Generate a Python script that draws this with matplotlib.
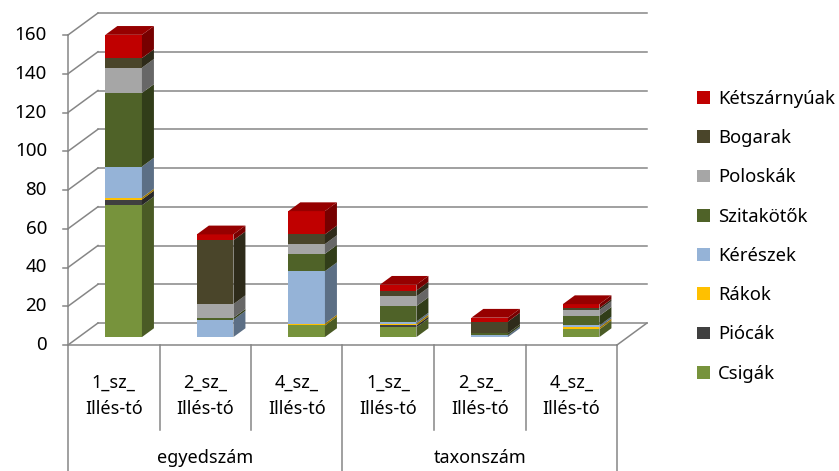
import matplotlib
matplotlib.use("Agg")
import matplotlib.pyplot as plt
from matplotlib.patches import Polygon, Patch
import numpy as np

plt.rcParams['font.family'] = ['Noto Sans', 'DejaVu Sans']

# data
sites = ["1_sz_\nIllés-tó", "2_sz_\nIllés-tó", "4_sz_\nIllés-tó"] * 2
groups = ["egyedszám", "taxonszám"]
taxa = ["Csigák", "Piócák", "Rákok", "Kérészek", "Szitakötők", "Poloskák", "Bogarak", "Kétszárnyúak"]
colors = ["#77933C", "#404040", "#FFC000", "#95B3D7", "#4F6228", "#A6A6A6", "#4A452A", "#C00000"]
values = {
    "Csigák":       [68, 0, 6, 5, 0, 4],
    "Piócák":       [3, 0, 0, 1, 0, 0],
    "Rákok":        [1, 0, 1, 1, 0, 1],
    "Kérészek":     [16, 9, 27, 1, 1, 1],
    "Szitakötők":   [38, 1, 9, 8, 1, 5],
    "Poloskák":     [13, 7, 5, 5, 0, 3],
    "Bogarak":      [5, 33, 5, 3, 6, 1],
    "Kétszárnyúak": [12, 3, 12, 3, 2, 2],
}
yticks = [0, 20, 40, 60, 80, 100, 120, 140, 160]

# geometry (oblique 3d like Excel)
W, H = 839, 471
x0px, x6px, y0px = 68, 617, 345
pxu = (x6px - x0px) / 6.0
pyu = 310 / 160.0
DX = 30 / pxu
DY = 22 / pyu
grid_c = "#868686"

fig = plt.figure(figsize=(W / 100, H / 100), dpi=100)
ax = fig.add_axes([0, 0, 1, 1])
ax.set_xlim(-x0px / pxu, (W - x0px) / pxu)
ax.set_ylim(-(H - y0px) / pyu, y0px / pyu)
ax.axis("off")

def shade(c, f):
    r, g, b = matplotlib.colors.to_rgb(c)
    return (r * f, g * f, b * f)

# back wall and side wall gridlines
for v in yticks:
    ax.plot([DX, 6 + DX], [v + DY, v + DY], color=grid_c, lw=1.1)
    ax.plot([0, DX], [v, v + DY], color=grid_c, lw=1.1)
    ax.plot([-5 / pxu, 0], [v, v], color=grid_c, lw=1.1)
    ax.text(-21 / pxu, v, str(v), ha="right", va="center", fontsize=13.5, color="#000000")
ax.plot([0, 0], [0, 160], color=grid_c, lw=1.1)
# floor
ax.plot([0, 6], [0, 0], color=grid_c, lw=1.1)
ax.plot([6, 6 + DX], [0, DY], color=grid_c, lw=1.1)

# bars
d1, d2 = 0.36, 0.76
for i in range(6):
    xl, xr = i + 0.29, i + 0.69
    base = 0
    segs = [(t, c, values[t][i]) for t, c in zip(taxa, colors) if values[t][i] > 0]
    for k, (t, c, v) in enumerate(segs):
        b, top = base, base + v
        front = [(xl + d1 * DX, b + d1 * DY), (xr + d1 * DX, b + d1 * DY),
                 (xr + d1 * DX, top + d1 * DY), (xl + d1 * DX, top + d1 * DY)]
        side = [(xr + d1 * DX, b + d1 * DY), (xr + d2 * DX, b + d2 * DY),
                (xr + d2 * DX, top + d2 * DY), (xr + d1 * DX, top + d1 * DY)]
        ax.add_patch(Polygon(front, closed=True, fc=c, ec="none", zorder=3))
        ax.add_patch(Polygon(side, closed=True, fc=shade(c, 0.62), ec="none", zorder=3))
        if k == len(segs) - 1:
            lid = [(xl + d1 * DX, top + d1 * DY), (xr + d1 * DX, top + d1 * DY),
                   (xr + d2 * DX, top + d2 * DY), (xl + d2 * DX, top + d2 * DY)]
            ax.add_patch(Polygon(lid, closed=True, fc=shade(c, 0.78), ec="none", zorder=3))
        base = top

# category table
ybot = -(H - y0px) / pyu
yshort = -(430 - y0px) / pyu
for i in range(7):
    ax.plot([i, i], [0, ybot if i % 3 == 0 else yshort], color=grid_c, lw=1.1)
for i, s in enumerate(sites):
    ax.text(i + 0.5, -(396 - y0px) / pyu, s, ha="center", va="center",
            fontsize=13, linespacing=1.55, color="#000000")
for j, g in enumerate(groups):
    ax.text(3 * j + 1.5, -(458 - y0px) / pyu, g, ha="center", va="center",
            fontsize=13, color="#000000")

# legend
handles = [Patch(facecolor=c, edgecolor="none") for c in colors][::-1]
fig.legend(handles, taxa[::-1], loc="upper left", bbox_to_anchor=(697 / W, 1 - 90 / H),
           frameon=False, fontsize=13.3, handlelength=0.7, handleheight=0.7,
           handletextpad=0.45, labelspacing=1.15, borderpad=0, borderaxespad=0)

fig.savefig("out.png", dpi=100)
